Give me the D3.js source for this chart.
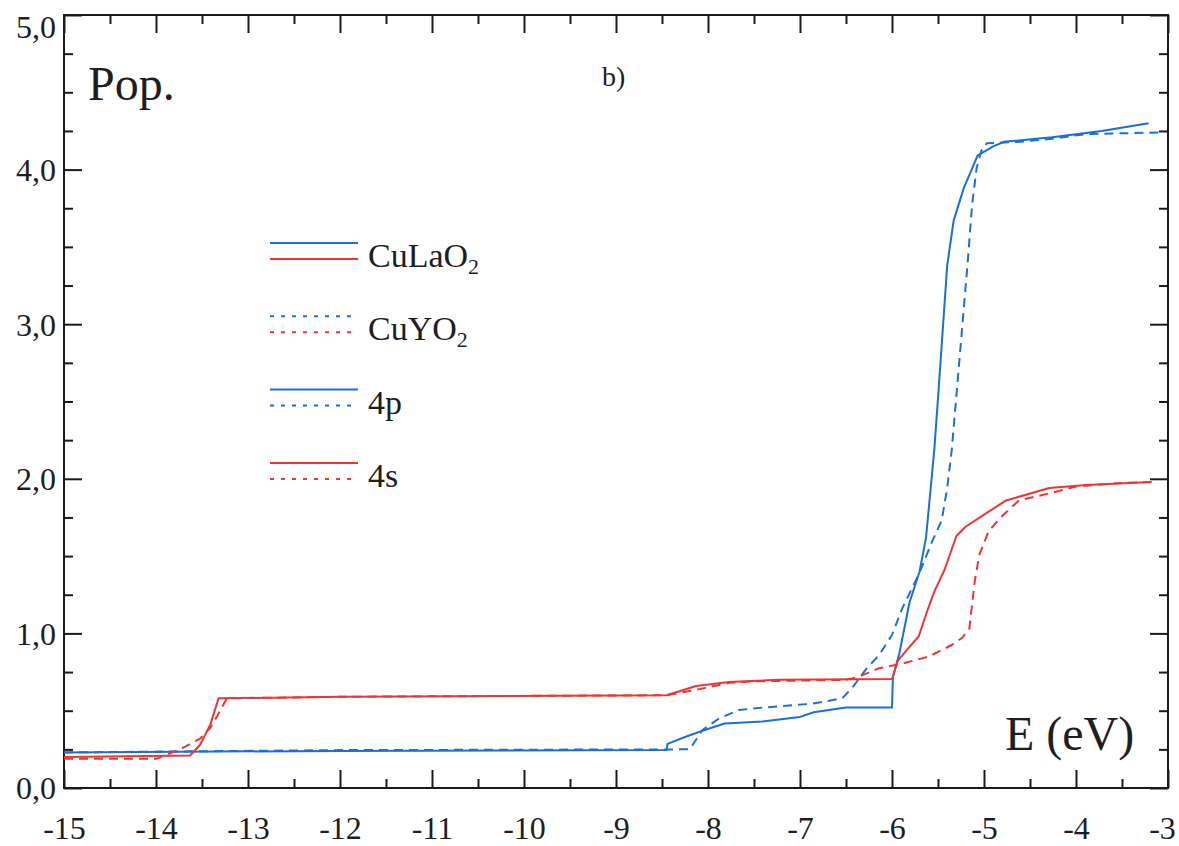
<!DOCTYPE html>
<html>
<head>
<meta charset="utf-8">
<script src="https://cdn.jsdelivr.net/npm/d3@7/dist/d3.min.js"></script>
<style>
  html, body { margin: 0; padding: 0; background: #ffffff; }
  svg { display: block; }
  text { font-family: "Liberation Serif", "DejaVu Serif", serif; fill: #1e1e1e; }
</style>
</head>
<body>
<svg id="chart" width="1179" height="846"></svg>
<script>
// ---------------- data ----------------
const xMajorTicks = [-15, -14, -13, -12, -11, -10, -9, -8, -7, -6, -5, -4, -3];
const xMinorTicks = [-14.5, -13.5, -12.5, -11.5, -10.5, -9.5, -8.5, -7.5, -6.5, -5.5, -4.5, -3.5];
const yMajorTicks = [0, 1, 2, 3, 4, 5];
const yMinorTicks = [0.25, 0.5, 0.75, 1.25, 1.5, 1.75, 2.25, 2.5, 2.75, 3.25, 3.5, 3.75, 4.25, 4.5, 4.75];

// CuLaO2 4p (blue solid)
const laP_E   = [-15, -12, -8.45, -8.44, -8.25, -8.06, -7.82, -7.41, -7.0, -6.85, -6.63, -6.5, -6.0, -5.99, -5.92, -5.81, -5.70, -5.63, -5.54, -5.50, -5.40, -5.33, -5.22, -5.07, -4.90, -4.78, -4.26, -3.72, -3.21];
const laP_Pop = [0.23, 0.24, 0.245, 0.285, 0.33, 0.37, 0.417, 0.43, 0.46, 0.49, 0.51, 0.52, 0.52, 0.72, 0.87, 1.20, 1.40, 1.62, 2.19, 2.52, 3.38, 3.67, 3.88, 4.09, 4.15, 4.18, 4.21, 4.25, 4.30];

// CuYO2 4p (blue dashed)
const yP_E   = [-15, -12, -8.2, -8.06, -7.88, -7.66, -7.41, -6.87, -6.54, -6.43, -6.28, -6.14, -6.0, -5.89, -5.71, -5.56, -5.46, -5.40, -5.35, -5.30, -5.24, -5.18, -5.13, -5.08, -5.03, -4.97, -4.6, -4.26, -3.89, -3.1];
const yP_Pop = [0.23, 0.245, 0.25, 0.375, 0.45, 0.505, 0.52, 0.545, 0.58, 0.65, 0.77, 0.86, 0.99, 1.16, 1.38, 1.60, 1.73, 1.94, 2.19, 2.54, 2.96, 3.38, 3.77, 4.01, 4.12, 4.17, 4.18, 4.20, 4.23, 4.24];

// CuLaO2 4s (red solid)
const laS_E   = [-15, -13.63, -13.52, -13.41, -13.32, -12, -8.45, -8.13, -7.77, -7.23, -6.0, -5.99, -5.94, -5.85, -5.71, -5.62, -5.54, -5.43, -5.30, -5.20, -5.02, -4.76, -4.29, -3.89, -3.18];
const laS_Pop = [0.20, 0.21, 0.28, 0.41, 0.58, 0.59, 0.60, 0.66, 0.685, 0.70, 0.705, 0.72, 0.82, 0.885, 0.98, 1.14, 1.27, 1.41, 1.63, 1.69, 1.76, 1.86, 1.94, 1.96, 1.98];

// CuYO2 4s (red dashed)
const yS_E   = [-15, -13.99, -13.74, -13.52, -13.41, -13.34, -13.23, -12, -8.45, -8.13, -7.77, -7.5, -6.5, -6.36, -6.14, -5.92, -5.6, -5.35, -5.24, -5.16, -5.10, -5.05, -4.95, -4.82, -4.62, -4.26, -4.0, -3.6, -3.18];
const yS_Pop = [0.19, 0.19, 0.25, 0.32, 0.39, 0.46, 0.58, 0.59, 0.60, 0.635, 0.68, 0.69, 0.70, 0.72, 0.775, 0.80, 0.85, 0.925, 0.97, 1.03, 1.34, 1.51, 1.66, 1.75, 1.86, 1.91, 1.95, 1.97, 1.98];

const seriesNames  = ["CuLaO2 4p", "CuYO2 4p", "CuLaO2 4s", "CuYO2 4s"];
const seriesE      = [laP_E, yP_E, laS_E, yS_E];
const seriesPop    = [laP_Pop, yP_Pop, laS_Pop, yS_Pop];
const seriesColor  = ["blue", "blue", "red", "red"];
const seriesDashed = [false, true, false, true];

const legendLabels = ["CuLaO", "CuYO", "4p", "4s"];
const legendSubs   = ["2", "2", "", ""];
const legendLineColors = [["blue", "red"], ["blue", "red"], ["blue", "blue"], ["red", "red"]];
const legendLineDashed = [[false, false], [true, true], [false, true], [false, true]];

// ---------------- styling ----------------
const COLORS = { blue: "#1c6fd6", red: "#ee3535" };
const svg = d3.select("#chart");
const L = 64, R = 1168, T = 15, B = 788;

const x = d3.scaleLinear().domain([-15, -3]).range([L, R]);
const y = d3.scaleLinear().domain([0, 5]).range([B, T]);

// frame
svg.append("rect")
  .attr("x", L).attr("y", T).attr("width", R - L).attr("height", B - T)
  .attr("fill", "none").attr("stroke", "#1a1a1a").attr("stroke-width", 2);

function styleAxis(g) {
  g.select(".domain").remove();
  g.selectAll(".tick line").attr("stroke", "#1a1a1a").attr("stroke-width", 2);
}

// bottom axis
const gxb = svg.append("g").attr("transform", `translate(0,${B})`)
  .call(d3.axisBottom(x).tickValues(xMajorTicks).tickSize(-18).tickPadding(28)
        .tickFormat(d => String(d)))
  .call(styleAxis);
gxb.selectAll(".tick text")
  .attr("font-size", 32).attr("font-family", "Liberation Serif").attr("fill", "#1e1e1e")
  .attr("dx", d => d === -3 ? -6 : 0);
svg.append("g").attr("transform", `translate(0,${B})`)
  .call(d3.axisBottom(x).tickValues(xMinorTicks).tickSize(-9).tickFormat(""))
  .call(styleAxis);

// top axis (ticks inward)
svg.append("g").attr("transform", `translate(0,${T})`)
  .call(d3.axisTop(x).tickValues(xMajorTicks).tickSize(-18).tickFormat(""))
  .call(styleAxis);
svg.append("g").attr("transform", `translate(0,${T})`)
  .call(d3.axisTop(x).tickValues(xMinorTicks).tickSize(-9).tickFormat(""))
  .call(styleAxis);

// left axis
const gyl = svg.append("g").attr("transform", `translate(${L},0)`)
  .call(d3.axisLeft(y).tickValues(yMajorTicks).tickSize(-18).tickPadding(8)
        .tickFormat(d => d.toFixed(1).replace(".", ",")))
  .call(styleAxis);
gyl.selectAll(".tick text")
  .attr("font-size", 32).attr("font-family", "Liberation Serif").attr("fill", "#1e1e1e")
  .attr("dy", d => d === 5 ? "0.7em" : "0.34em");
svg.append("g").attr("transform", `translate(${L},0)`)
  .call(d3.axisLeft(y).tickValues(yMinorTicks).tickSize(-9).tickFormat(""))
  .call(styleAxis);

// right axis (ticks inward)
svg.append("g").attr("transform", `translate(${R},0)`)
  .call(d3.axisRight(y).tickValues(yMajorTicks).tickSize(-18).tickFormat(""))
  .call(styleAxis);
svg.append("g").attr("transform", `translate(${R},0)`)
  .call(d3.axisRight(y).tickValues(yMinorTicks).tickSize(-9).tickFormat(""))
  .call(styleAxis);

// curves
const line = d3.line().x(d => x(d[0])).y(d => y(d[1]));
seriesE.forEach((es, i) => {
  const pts = es.map((e, j) => [e, seriesPop[i][j]]);
  svg.append("path")
    .datum(pts)
    .attr("d", line)
    .attr("fill", "none")
    .attr("stroke", COLORS[seriesColor[i]])
    .attr("stroke-width", 2)
    .attr("stroke-linejoin", "round")
    .attr("stroke-dasharray", seriesDashed[i] ? "9,6" : null);
});

// text labels
svg.append("text").attr("x", 88).attr("y", 100).attr("font-size", 48).text("Pop.");
svg.append("text").attr("x", 1005).attr("y", 750).attr("font-size", 48).text("E (eV)");
svg.append("text").attr("x", 602).attr("y", 86).attr("font-size", 28).text("b)");

// legend
const legX1 = 270, legX2 = 358, legTextX = 368, legBase0 = 267, legStep = 73.3;
const legOffsets = [-24, -8];
legendLabels.forEach((lab, i) => {
  const base = legBase0 + i * legStep;
  legendLineColors[i].forEach((c, k) => {
    svg.append("line")
      .attr("x1", legX1).attr("x2", legX2)
      .attr("y1", base + legOffsets[k]).attr("y2", base + legOffsets[k])
      .attr("stroke", COLORS[c]).attr("stroke-width", 2)
      .attr("stroke-dasharray", legendLineDashed[i][k] ? "4,7" : null);
  });
  const t = svg.append("text").attr("x", legTextX).attr("y", base).attr("font-size", 34);
  t.append("tspan").text(lab);
  if (legendSubs[i]) {
    t.append("tspan").attr("font-size", 22).attr("dy", 7).text(legendSubs[i]);
  }
});
</script>
</body>
</html>
